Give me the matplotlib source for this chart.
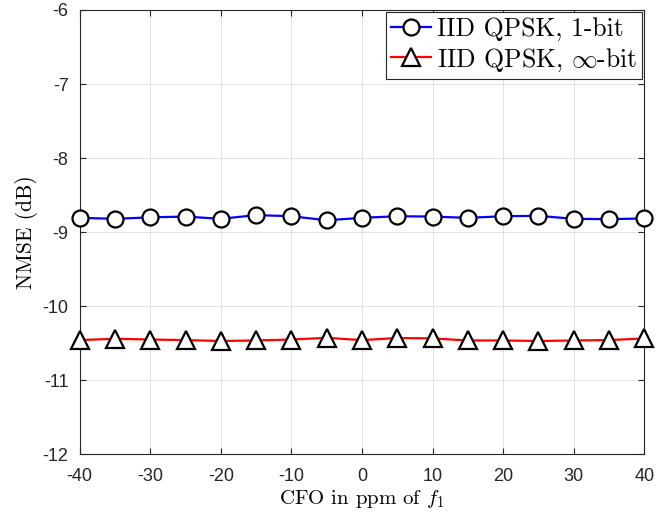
import numpy as np
import matplotlib
matplotlib.use('Agg')
import matplotlib.pyplot as plt

# CFO offsets (ppm of f1) and measured NMSE (dB)
cfo_ppm = [-40, -35, -30, -25, -20, -15, -10, -5, 0, 5, 10, 15, 20, 25, 30, 35, 40]
nmse_1bit = [-8.807, -8.82, -8.80, -8.79, -8.82, -8.77, -8.785, -8.84, -8.807,
             -8.785, -8.79, -8.807, -8.785, -8.78, -8.82, -8.825, -8.815]
nmse_inf = [-10.458, -10.44, -10.45, -10.458, -10.47, -10.463, -10.45, -10.427, -10.458,
            -10.43, -10.435, -10.463, -10.463, -10.47, -10.463, -10.458, -10.435]

plt.rcParams['mathtext.fontset'] = 'cm'
plt.rcParams['axes.unicode_minus'] = False
serif = 'cmr10'

fig = plt.figure(figsize=(6.57, 5.12), dpi=100)
ax = fig.add_axes([0.1212, 0.1127, 0.8595, 0.8678])

ax.plot(cfo_ppm, nmse_1bit, '-o', color='#0000ff', lw=1.6, ms=11.5, mfc='white',
        mec='black', mew=1.6, label='IID QPSK, 1-bit', clip_on=False, zorder=3)
ax.plot(cfo_ppm, nmse_inf, '-^', color='#ff0000', lw=1.6, ms=12.5, mfc='white',
        mec='black', mew=1.6, label=r'IID QPSK, $\infty$-bit', clip_on=False, zorder=3)

ax.set_xlim(-40, 40)
ax.set_ylim(-12, -6)
ax.set_xticks(np.arange(-40, 41, 10))
ax.set_yticks(np.arange(-12, -5, 1))
ax.grid(True, color='#e3e3e3', lw=0.7)
ax.set_axisbelow(True)

for s in ax.spines.values():
    s.set_color('#262626')
    s.set_linewidth(0.8)
ax.tick_params(direction='in', length=4.5, width=0.8, color='#262626',
               top=True, right=True, labelsize=13, labelcolor='#262626')
ax.tick_params(axis='x', pad=10)
ax.tick_params(axis='y', pad=8)
for lab in ax.get_xticklabels() + ax.get_yticklabels():
    lab.set_family('Liberation Sans')

ax.set_xlabel(r'CFO in ppm of $f_1$', family=serif, fontsize=15, labelpad=2)
ax.set_ylabel('NMSE (dB)', family=serif, fontsize=15.5, labelpad=3)

leg = ax.legend(loc='upper right', prop={'family': serif, 'size': 18.5},
                fancybox=False, framealpha=1, edgecolor='#262626',
                handlelength=1.55, handletextpad=0.25, borderpad=0.2,
                labelspacing=0.2, borderaxespad=0.08)
leg.get_frame().set_linewidth(0.8)

fig.savefig('out.png', dpi=100)
